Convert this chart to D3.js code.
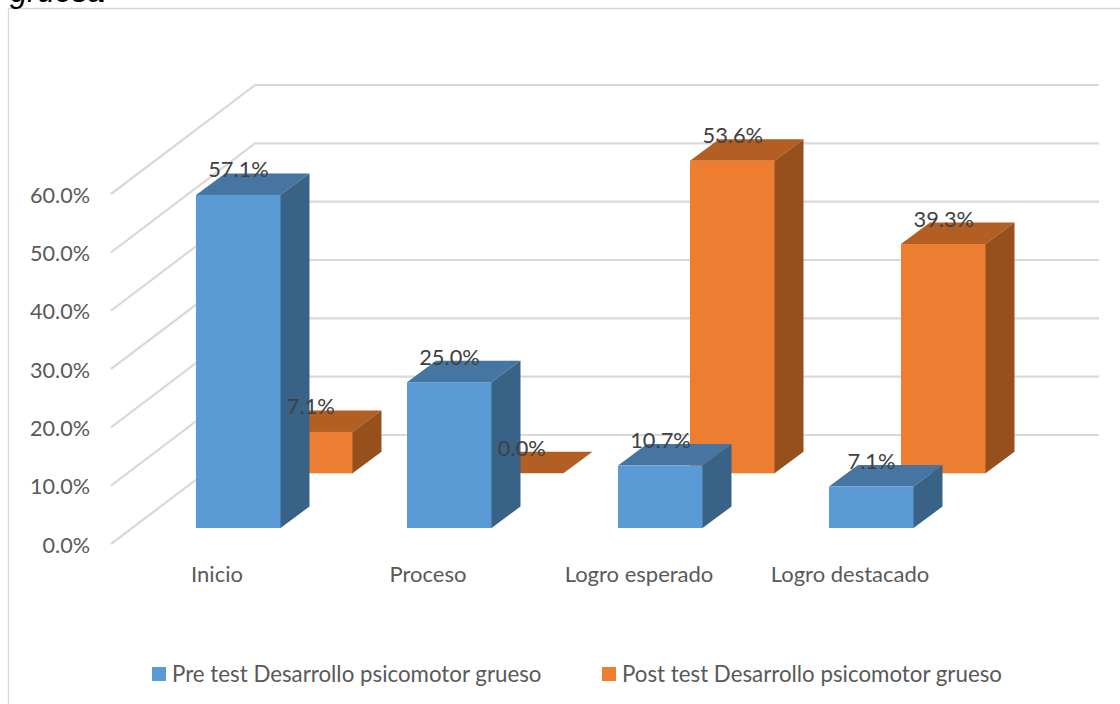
<!DOCTYPE html>
<html><head><meta charset="utf-8">
<script src="https://cdn.jsdelivr.net/npm/d3@7"></script>
<style>html,body{margin:0;padding:0;background:#fff;overflow:hidden}svg{display:block}</style>
</head><body><svg id="c" width="1120" height="704"></svg>
<script>
const categories = ["Inicio","Proceso","Logro esperado","Logro destacado"];
const preValues = [57.1,25.0,10.7,7.1];
const postValues = [7.1,0.0,53.6,39.3];
const seriesNames = ["Pre test Desarrollo psicomotor grueso","Post test Desarrollo psicomotor grueso"];
const yTicks = [0,10,20,30,40,50,60];
const titleFragment = "gruesa";

const svg = d3.select("#c");
const font = "Lato, 'Open Sans', sans-serif";
const textCol = "#595959", gridCol = "#d9d9d9", labelCol = "#404040";
const colours = [
  {front:"#5b9bd5", top:"#4675a1", side:"#396287"},
  {front:"#ed7d31", top:"#b35e22", side:"#97501c"}
];

const h = d3.scaleLinear().domain([0,60]).range([0,350]);
const x = d3.scaleBand().domain(categories).range([112.5,956.5]);
const frontX = 111, frontY0 = 544, backX = 255, backY0 = 435, wallRight = 1099;
const barW = 84.5, depthX = 29, depthY = 21.5;
const offs = [{dx:83.5, y0:528},{dx:155.5, y0:473.3}];

svg.append("path").attr("d","M8.5,704V8.5H1120").attr("fill","none").attr("stroke",gridCol).attr("stroke-width",1.3);
svg.append("text").text(titleFragment).attr("x",10).attr("y",2)
  .attr("font-family","Liberation Sans, Arial, sans-serif").attr("font-style","italic").attr("font-size",31).attr("fill","#000");

const grid = svg.append("g").attr("fill","none").attr("stroke",gridCol).attr("stroke-width",2.2);
yTicks.forEach(t=>{
  grid.append("path").attr("d",`M${frontX},${frontY0-h(t)}L${backX},${backY0-h(t)}H${wallRight}`);
});
svg.append("g").selectAll("text").data(yTicks).join("text")
  .attr("x",90).attr("y",t=>frontY0-h(t)+8.5).attr("text-anchor","end").text(t=>t.toFixed(1)+"%")
  .attr("font-family",font).attr("font-size",21.6).attr("fill",textCol);

function bar(g,cat,v,s){
  const c = colours[s], X = x(cat)+offs[s].dx, Y0 = offs[s].y0, H = h(v), Y = Y0-H;
  g.append("path").attr("fill",c.top).attr("d",`M${X},${Y}l${depthX},${-depthY}h${barW}l${-depthX},${depthY}Z`);
  if(H>0){
    // the side starts 1px inside the front face so no seam shows what lies behind
    g.append("path").attr("fill",c.side).attr("d",`M${X+barW-1},${Y}h1l${depthX},${-depthY}v${H}l${-depthX},${depthY}h-1Z`);
    g.append("rect").attr("fill",c.front).attr("x",X).attr("y",Y).attr("width",barW).attr("height",H);
  }
}
const bars = svg.append("g");
categories.forEach((cat,i)=>{
  bar(bars,cat,postValues[i],1);
  bar(bars,cat,preValues[i],0);
});
const labels = svg.append("g").attr("font-family",font).attr("font-size",21.8).attr("fill",labelCol).attr("text-anchor","middle");
categories.forEach((cat,i)=>{
  [[preValues[i],0],[postValues[i],1]].forEach(([v,s])=>{
    labels.append("text").text(v.toFixed(1)+"%")
      .attr("x",x(cat)+offs[s].dx+42.5+s*0.3).attr("y",offs[s].y0-h(v)-17.5);
  });
});
svg.append("g").selectAll("text").data(categories).join("text")
  .attr("x",c=>x(c)+x.bandwidth()/2-1).attr("y",582).attr("text-anchor","middle").text(c=>c)
  .attr("font-family",font).attr("font-size",22).attr("fill",textCol);
const lx = [152,602], ltx=[172,622];
const lg = svg.append("g");
seriesNames.forEach((n,i)=>{
  lg.append("rect").attr("x",lx[i]).attr("y",667).attr("width",14).attr("height",14).attr("fill",colours[i].front);
  lg.append("text").attr("x",ltx[i]).attr("y",682).text(n).attr("font-family",font).attr("font-size",22.3).attr("fill",textCol);
});
</script></body></html>
